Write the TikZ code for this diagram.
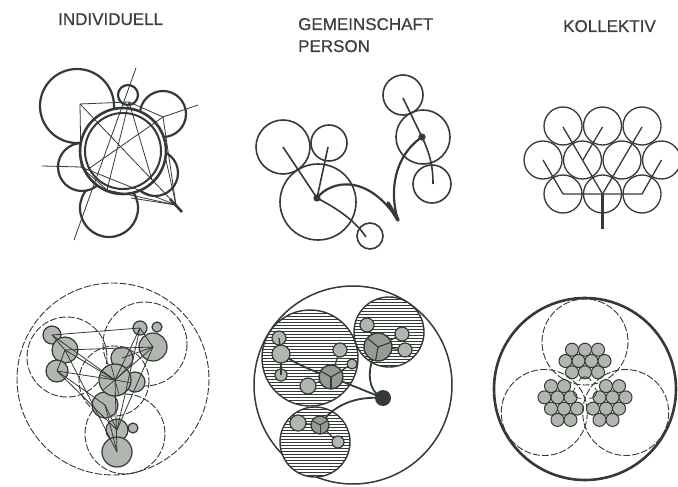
\documentclass[tikz,border=0pt]{standalone}
\usepackage{fontspec}
\setmainfont{Liberation Sans}
\newfontfamily\titlefont{Liberation Sans}[FakeBold=0.6]
\definecolor{ink}{RGB}{52,58,52}
\definecolor{shade}{RGB}{178,182,176}
\definecolor{shadedk}{RGB}{150,155,148}
\definecolor{txt}{RGB}{62,62,62}
\tikzset{
  title/.style={font=\titlefont\fontsize{17}{20}\selectfont, text=txt, inner sep=0pt, anchor=base west},
  thickcirc/.style={draw=ink, line width=2.2pt, fill=white},
  thinline/.style={draw=ink, line width=0.8pt},
  midcirc/.style={draw=ink, line width=1.6pt},
  treecirc/.style={draw=ink, line width=1.3pt},
  dashcirc/.style={draw=ink, line width=0.9pt, dash pattern=on 7pt off 2pt},
  graycirc/.style={draw=ink, line width=1.2pt, fill=shade},
  hatchline/.style={draw=ink, line width=0.55pt},
}
\begin{document}
\begin{tikzpicture}[x=1pt,y=-1pt]
\useasboundingbox[fill=white] (0,0) rectangle (678,487);

% ---------------- titles
\node[title] (tind) at (58,25) {INDIVIDUELL};
\node[title] (tgem) at (298,30) {GEMEINSCHAFT};
\node[title] (tper) at (298,52) {PERSON};
\node[title] (tkol) at (563,32) {KOLLEKTIV};

% ---------------- top left: individuell
\foreach \x/\y/\r in {109/208/29, 82/167/24, 77/106/37, 155/173/23, 163/114/23, 128/95/10}
  \draw[thickcirc] (\x,\y) circle (\r);
\draw[draw=ink, line width=2.6pt, fill=white] (123,151) circle (43);
\draw[draw=ink, line width=2pt] (123,151) circle (38);
\coordinate (TL) at (80,104);
\coordinate (TM) at (129,102);
\coordinate (TR) at (163,117);
\coordinate (LL) at (81,167);
\coordinate (TIP) at (176,205);
\coordinate (B1) at (107,190);
\coordinate (B2) at (131,198);
\draw[thinline] (TL) -- (TM) -- (TR) -- (TIP);
\draw[thinline] (TL) -- (LL);
\draw[thinline] (TL) -- (TIP);
\draw[thinline] (136,68) -- (74,240);
\draw[thinline] (198,105) -- (TR) -- (84,172);
\draw[thinline] (42,166) -- (LL) -- (TIP);
\draw[thinline] (TM) -- (B1) -- (TIP);
\draw[thinline] (TM) -- (152,180);
\draw[thinline] (LL) -- (B1);
\draw[thinline] (B2) -- (TIP);
\draw[thinline] (166,160) -- (TIP);
\draw[draw=ink, line width=2.6pt] (170,199) -- (182,212);

% ---------------- top middle: gemeinschaft / person
\foreach \x/\y/\r in {283/147/27, 329/143/18, 318/202/38, 370/236/13, 403/95/20, 423/137/27, 432/184/19}
  \draw[midcirc] (\x,\y) circle (\r);
\coordinate (PD1) at (317,198);
\coordinate (PD2) at (422,137);
\coordinate (PV) at (398,220);
\draw[midcirc] (283,147) -- (PD1) -- (328,147);
\draw[midcirc] (PD1) .. controls (340,210) and (356,222) .. (366,237);
\draw[draw=ink, line width=2.2pt] (PD1) .. controls (330,181) and (367,172) .. (PV);
\draw[draw=ink, line width=2.2pt] (PV) .. controls (389,192) and (394,156) .. (PD2);
\draw[draw=ink, line width=3.6pt, line cap=round] (388,203) -- (PV);
\draw[midcirc] (403,98) -- (PD2);
\draw[midcirc] (PD2) .. controls (430,154) and (433,166) .. (433,184);
\fill[ink] (PD1) circle (3.6);
\fill[ink] (PD2) circle (3.6);

% ---------------- top right: kollektiv
\foreach \x/\y in {563/126, 602.5/126, 642/126, 543/160, 582.5/160, 622/160, 661.5/160, 563/194, 602.5/194, 642/194}
  \draw[treecirc] (\x,\y) circle (19);
\draw[treecirc] (563,127) -- (602.5,194);
\draw[treecirc] (602.5,127) -- (583,160);
\draw[treecirc] (642,127) -- (602.5,194);
\draw[treecirc] (543,160) -- (563,194) -- (642,194) -- (661.5,160);
\draw[draw=ink, line width=2.2pt] (602.5,194) -- (602.5,229);

% ---------------- bottom left
\draw[dashcirc] (113,379) circle (96);
\foreach \x/\y/\r in {67/357/40, 145/344/42, 125/434/40, 114/381/35}
  \draw[dashcirc] (\x,\y) circle (\r);
\foreach \x/\y/\r/\n in {52/335/9/u1, 65/350/13/u2, 57/371/11/u3, 140/328/7/r1, 157/327/5/r2, 153/347/14/r3,
  122/358/11/m1, 135/382/10/m2, 105/405/13/m3, 117/430/11/b1, 133/428/5/b2, 117/452/15/b3, 115/380/16/c0}
  {\draw[graycirc] (\x,\y) circle (\r); \coordinate (\n) at (\x,\y);}
\foreach \a in {10,75,140,200,255,315}
  \draw[draw=ink, line width=0.7pt] (c0) -- ++(\a:15);
\foreach \p/\q in {u1/r1, u2/r3, u2/c0, u3/c0, u1/c0, u3/b1, u2/b3, r3/b1, r1/c0, r3/c0, c0/b3, u3/m3, m1/r3, m3/b1, r1/b1, u1/u2, u2/u3, r1/r3, m3/b3}
  \draw[thinline] (\p) -- (\q);

% ---------------- bottom middle
\draw[draw=ink, line width=1.5pt] (353,385) circle (99);
\foreach \x/\y/\r in {310/358/48, 389/332/35, 315/442/35}{
  \fill[white] (\x,\y) circle (\r);
  \begin{scope}
    \clip (\x,\y) circle (\r);
    \foreach \k in {-17,...,17}
      \draw[hatchline] (\x-\r,\y+\k*3) -- (\x+\r,\y+\k*3);
  \end{scope}
  \draw[draw=ink, line width=1.4pt] (\x,\y) circle (\r);
}
\coordinate (DOT) at (383,398);
\coordinate (LC) at (281,354);
\coordinate (MC) at (331,377);
\coordinate (UC) at (378,347);
\coordinate (BC) at (320,425);
% connectors
\draw[draw=ink, line width=1.8pt] (LC) .. controls (300,366) and (315,372) .. (MC) -- (DOT);
\draw[draw=ink, line width=1.8pt] (DOT) .. controls (368,392) and (365,370) .. (UC);
\draw[draw=ink, line width=1.8pt] (DOT) .. controls (355,396) and (333,405) .. (BC);
% left cluster
\foreach \x/\y/\r in {279/338/7, 281/375/6}
  {\draw[graycirc] (\x,\y) circle (\r); \draw[draw=ink, line width=1.2pt] (LC) -- (\x,\y);}
\draw[graycirc] (LC) circle (9);
% main cluster in left circle
\foreach \x/\y/\r in {340/350/7, 352/364/5, 308/386/8}
  {\draw[draw=ink, line width=1.2pt] (MC) -- (\x,\y); \draw[graycirc] (\x,\y) circle (\r);}
\draw[draw=ink, line width=1.4pt, fill=shadedk] (MC) circle (12);
\foreach \a in {90,210,330} \draw[draw=ink, line width=1.1pt] (MC) -- ++(\a:12);
% upper right cluster
\foreach \x/\y/\r in {367/325/7, 402/334/7, 405/350/7}
  {\draw[draw=ink, line width=1.2pt] (UC) -- (\x,\y); \draw[graycirc] (\x,\y) circle (\r);}
\draw[draw=ink, line width=1.4pt, fill=shadedk] (UC) circle (14);
\foreach \a in {100,220,340} \draw[draw=ink, line width=1.1pt] (UC) -- ++(\a:14);
% bottom cluster
\draw[draw=ink, line width=1.2pt] (298,423) -- (BC) -- (338,442);
\foreach \x/\y/\r in {298/423/8, 338/442/6}
  \draw[graycirc] (\x,\y) circle (\r);
\draw[draw=ink, line width=1.3pt, fill=shadedk] (BC) circle (9);
\foreach \a in {90,210,330} \draw[draw=ink, line width=1pt] (BC) -- ++(\a:9);
\fill[ink] (DOT) circle (8);

% ---------------- bottom right: kollektiv
\draw[draw=ink, line width=2.6pt] (585,389) circle (91);
\foreach \a in {0,120,240}{
  \begin{scope}[rotate around={\a:(585,389)}]
    \draw[dashcirc] (585,342) circle (43);
    \foreach \dx/\dy in {-13/-11.3, 0/-11.3, 13/-11.3, -19.5/0, -6.5/0, 6.5/0, 19.5/0, -13/11.3, 0/11.3, 13/11.3}
      \draw[draw=ink, line width=1pt, fill=shade] (585+\dx,361+\dy) circle (6.5);
    \draw[draw=ink, line width=0.8pt] (579,381) arc[start angle=200, end angle=340, radius=6.4];
  \end{scope}
}
\end{tikzpicture}
\end{document}
